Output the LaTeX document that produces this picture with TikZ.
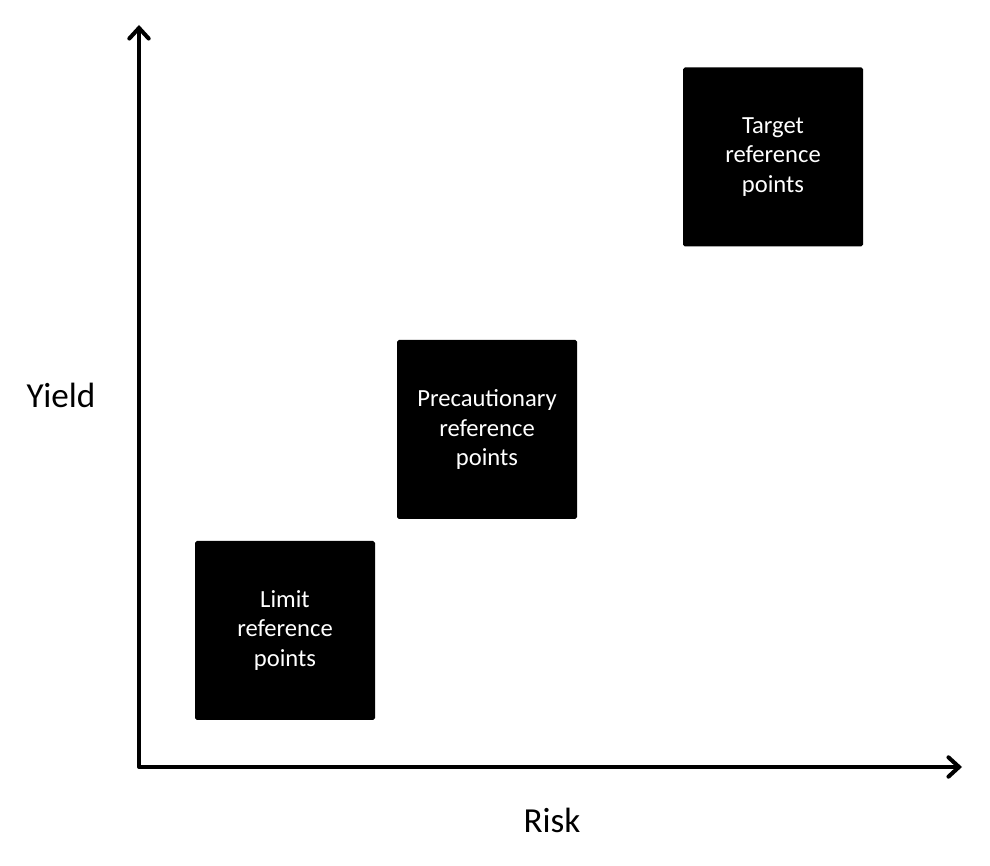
\documentclass[tikz,border=0pt]{standalone}
\usepackage{fontspec}
\setmainfont{Carlito}
\usepackage{tikz}
\usetikzlibrary{calc}
\usetikzlibrary{arrows.meta}
\tikzstyle{every node}=[font=\fontsize{14}{17}\selectfont]
\tikzstyle{refbox}=[fill=black, text=white, rounded corners=1pt, minimum width=3.6cm, minimum height=3.58cm, align=center, inner sep=0pt]

\begin{document}
\begin{tikzpicture}

                \useasboundingbox (-2.78, -1.98) rectangle (17.02, 15.34);

                \coordinate (O) at (0, 0);
                \coordinate (Y) at (0, 14.84);
                \coordinate (X) at (16.46, 0);

                \draw [line width=2.3pt, line join=round, line cap=round,
                       arrows={Straight Barb[length=6pt, width=11pt, line cap=round]-Straight Barb[length=6pt, width=11pt, line cap=round]}]
                      (Y) -- (O) -- (X);

                \node [font=\fontsize{20}{24}\selectfont] (yield) at (-1.56, 7.44) {Yield};
                \node [font=\fontsize{20}{24}\selectfont] (risk) at (8.26, -1.06) {Risk};

                \node [refbox] (limit) at (2.92, 2.73) {Limit\\reference\\points};
                \node [refbox] (prec) at (6.96, 6.75) {Precautionary\\reference\\points};
                \node [refbox] (target) at (12.68, 12.2) {Target\\reference\\points};

            \end{tikzpicture}
\end{document}
